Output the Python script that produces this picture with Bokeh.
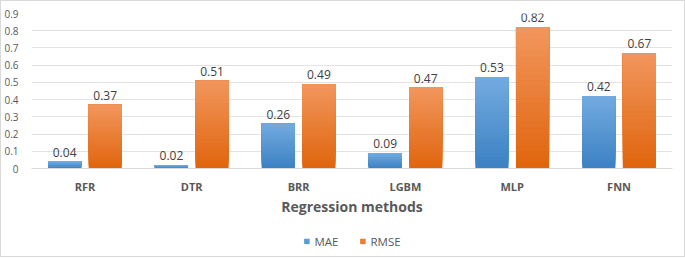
from bokeh.plotting import figure
from bokeh.models import (ColumnDataSource, FactorRange, LabelSet, Legend, LegendItem,
                          FixedTicker, CustomJSTickFormatter)
from bokeh.layouts import column
from bokeh.core.properties import value
from bokeh.transform import dodge
from bokeh.embed import file_html
from bokeh.resources import INLINE

methods = ["RFR", "DTR", "BRR", "LGBM", "MLP", "FNN"]
mae = [0.04, 0.02, 0.26, 0.09, 0.53, 0.42]
rmse = [0.37, 0.51, 0.49, 0.47, 0.82, 0.67]
y_ticks = [0, 0.1, 0.2, 0.3, 0.4, 0.5, 0.6, 0.7, 0.8, 0.9]
series_names = ["MAE", "RMSE"]

FONT = "Open Sans"
p = figure(x_range=FactorRange(*methods), y_range=(0, 0.9), width=683, height=225,
           output_backend="svg", toolbar_location=None,
           min_border_left=29, min_border_right=12, min_border_top=12, min_border_bottom=58)
p.x_range.range_padding = 0
p.x_range.factor_padding = 0
p.outline_line_color = None
p.background_fill_color = "white"

def hex2rgb(h):
    return tuple(int(h[i:i+2], 16) for i in (1, 3, 5))

def mix(c1, c2, t):
    a, b = hex2rgb(c1), hex2rgb(c2)
    return "#%02x%02x%02x" % tuple(int(round(a[i] + (b[i] - a[i]) * t)) for i in range(3))

N = 24
series = [(mae, -0.19, "#72aadf", "#3c82c4"),
          (rmse, 0.19, "#f2955c", "#e0660e")]
legend_colors = ["#5b9bd5", "#ed7d31"]
for vals, off, top_c, bot_c in series:
    for k in range(N):
        t = k / (N - 1)
        src = ColumnDataSource(dict(
            x=methods,
            bottom=[v * k / N for v in vals],
            top=vals))
        p.vbar(x=dodge("x", off, range=p.x_range), bottom="bottom", top="top", width=0.31,
               source=src, fill_color=mix(bot_c, top_c, t), line_color=None)
    lsrc = ColumnDataSource(dict(x=methods, y=vals, t=["%.2f" % v for v in vals]))
    p.add_layout(LabelSet(x=dodge("x", off, range=p.x_range), y="y", text="t", source=lsrc,
                          text_align="center", text_baseline="bottom", y_offset=5,
                          text_font=value(FONT), text_font_size="12px", text_color="#404040"))

p.xgrid.grid_line_color = None
p.ygrid.grid_line_color = "#e3e3e3"
p.ygrid.grid_line_width = 1
p.yaxis.ticker = FixedTicker(ticks=y_ticks)
p.yaxis.formatter = CustomJSTickFormatter(code="return tick.toFixed(1).replace(/\\.0$/, '')")
p.yaxis.axis_line_color = None
p.yaxis.major_tick_line_color = None
p.yaxis.minor_tick_line_color = None
p.yaxis.major_label_text_font = FONT
p.yaxis.major_label_text_font_size = "10px"
p.yaxis.major_label_text_color = "#595959"
p.yaxis.major_label_standoff = 7

p.xaxis.axis_line_color = "#d9d9d9"
p.xaxis.major_tick_line_color = None
p.xaxis.minor_tick_line_color = None
p.xaxis.major_label_text_font = FONT
p.xaxis.major_label_text_font_style = "bold"
p.xaxis.major_label_text_font_size = "11px"
p.xaxis.major_label_text_color = "#595959"
p.xaxis.major_label_standoff = 4
p.xaxis.axis_label = "Regression methods"
p.xaxis.axis_label_text_font = FONT
p.xaxis.axis_label_text_font_style = "bold"
p.xaxis.axis_label_text_font_size = "14px"
p.xaxis.axis_label_text_color = "#595959"
p.xaxis.axis_label_standoff = 0

# legend figure
p2 = figure(width=683, height=30, output_backend="svg", toolbar_location=None,
            x_range=(0, 1), y_range=(0, 1), min_border=0)
p2.axis.visible = False
p2.grid.visible = False
p2.outline_line_color = None
items = []
for name, col in zip(series_names, legend_colors):
    r = p2.quad(left=[-5], right=[-4], bottom=[-5], top=[-4], fill_color=col, line_color=None)
    items.append(LegendItem(label=name, renderers=[r]))
legend = Legend(items=items, orientation="horizontal", location="center",
                label_text_font=FONT, label_text_font_size="11.5px", label_text_color="#595959",
                glyph_width=7, glyph_height=7, label_standoff=5, spacing=20,
                border_line_color=None, background_fill_alpha=0, padding=0, margin=0)
p2.add_layout(legend, "center")

layout = column(p, p2, spacing=0)
layout.styles = {"border": "1px solid #d9d9d9"}
open("out.html", "w").write(file_html(layout, INLINE))
